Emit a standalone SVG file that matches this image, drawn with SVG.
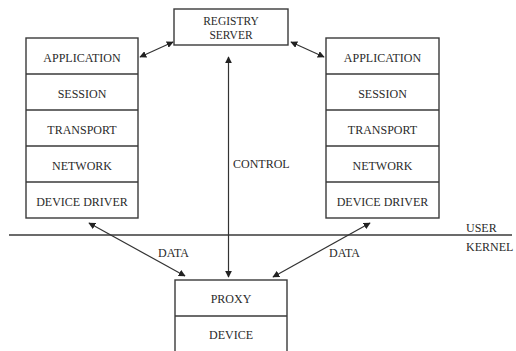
<svg xmlns="http://www.w3.org/2000/svg" width="516" height="351" viewBox="0 0 516 351">
<style>
.box{fill:#fff;stroke:#3a3a3a;stroke-width:1.4}
.div{stroke:#3a3a3a;stroke-width:1.4}
.t{font-family:"Liberation Serif",serif;font-size:12px;fill:#2a2a2a;text-anchor:middle}
.tr{font-family:"Liberation Serif",serif;font-size:11.5px;fill:#2a2a2a;text-anchor:middle}
.ts{font-family:"Liberation Serif",serif;font-size:12px;fill:#2a2a2a}
.c{stroke:#333;stroke-width:1.2;fill:none;marker-start:url(#ah);marker-end:url(#ah)}
</style>
<defs>
<marker id="ah" viewBox="0 0 10 10" refX="9" refY="5" markerWidth="7" markerHeight="7" markerUnits="userSpaceOnUse" orient="auto-start-reverse">
<path d="M0,0 L10,5 L0,10 z" fill="#222"/>
</marker>
</defs>
<rect width="516" height="351" fill="#fff"/>
<g id="boundary">
<line x1="9" y1="235" x2="512" y2="235" stroke="#3a3a3a" stroke-width="1.4"/>
<text class="ts" x="466" y="232">USER</text>
<text class="ts" x="466" y="251">KERNEL</text>
</g>
<g id="registry">
<rect class="box" x="174" y="9" width="114" height="36"/>
<text class="tr" x="231" y="25">REGISTRY</text>
<text class="tr" x="231" y="38.5">SERVER</text>
</g>
<g id="left-stack">
<rect class="box" x="26" y="38" width="112" height="180"/>
<line class="div" x1="26" y1="74" x2="138" y2="74"/>
<line class="div" x1="26" y1="110" x2="138" y2="110"/>
<line class="div" x1="26" y1="146" x2="138" y2="146"/>
<line class="div" x1="26" y1="182" x2="138" y2="182"/>
<text class="t" x="82" y="62">APPLICATION</text>
<text class="t" x="82" y="98">SESSION</text>
<text class="t" x="82" y="134">TRANSPORT</text>
<text class="t" x="82" y="170">NETWORK</text>
<text class="t" x="82" y="206">DEVICE DRIVER</text>
</g>
<g id="right-stack">
<rect class="box" x="326" y="38" width="113" height="180"/>
<line class="div" x1="326" y1="74" x2="439" y2="74"/>
<line class="div" x1="326" y1="110" x2="439" y2="110"/>
<line class="div" x1="326" y1="146" x2="439" y2="146"/>
<line class="div" x1="326" y1="182" x2="439" y2="182"/>
<text class="t" x="382.5" y="62">APPLICATION</text>
<text class="t" x="382.5" y="98">SESSION</text>
<text class="t" x="382.5" y="134">TRANSPORT</text>
<text class="t" x="382.5" y="170">NETWORK</text>
<text class="t" x="382.5" y="206">DEVICE DRIVER</text>
</g>
<g id="proxy">
<rect class="box" x="175" y="280" width="112" height="75"/>
<line class="div" x1="175" y1="316" x2="287" y2="316"/>
<text class="t" x="231" y="303">PROXY</text>
<text class="t" x="231" y="339">DEVICE</text>
</g>
<g id="connectors">
<line class="c" x1="140" y1="57" x2="173" y2="42"/>
<line class="c" x1="291" y1="42" x2="324" y2="57"/>
<line class="c" x1="228.5" y1="57" x2="228.5" y2="277"/>
<line class="c" x1="89" y1="223" x2="185" y2="276"/>
<line class="c" x1="370" y1="223" x2="273" y2="277"/>
<text class="ts" x="233" y="168">CONTROL</text>
<text class="ts" x="158" y="257">DATA</text>
<text class="ts" x="329" y="257">DATA</text>
</g>
</svg>
